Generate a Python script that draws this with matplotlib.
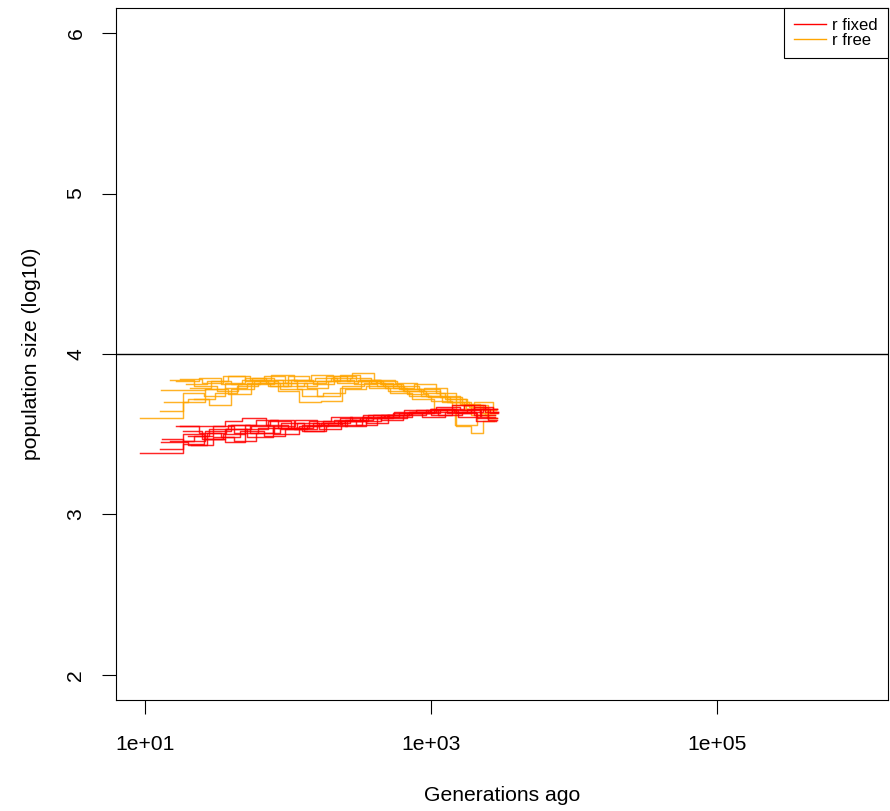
import matplotlib
matplotlib.use("Agg")
import matplotlib.pyplot as plt

plt.rcParams["font.family"] = ["Liberation Sans", "DejaVu Sans"]

# step curves: generation breakpoints and log10 population size per step
fixed_times = [
    [9.2, 18.5, 26, 36, 55, 80, 120, 170, 240, 330, 480, 700, 1000, 1500, 2100, 2900],
    [12.7, 18.5, 26, 36, 50, 75, 110, 160, 230, 320, 450, 650, 950, 1400, 2000, 2800],
    [13, 20, 27, 37, 52, 78, 115, 165, 235, 335, 470, 680, 980, 1450, 2050, 2850],
    [13.2, 18.5, 26.3, 40, 60, 85, 125, 180, 250, 350, 500, 720, 1050, 1550, 2200, 2900],
    [16.5, 26, 36, 48, 70, 100, 140, 200, 280, 390, 550, 800, 1150, 1700, 2400, 2950],
    [17.6, 24, 34, 46, 68, 95, 135, 190, 270, 380, 540, 780, 1120, 1650, 2300, 2900],
    [15, 22, 30, 42, 62, 90, 130, 185, 260, 360, 510, 740, 1080, 1600, 2250, 2800],
    [18.5, 25, 35, 50, 72, 105, 150, 210, 300, 420, 600, 860, 1250, 1800, 2500, 2900],
    [20, 28, 38, 54, 78, 112, 160, 225, 320, 450, 640, 920, 1300, 1900, 2600, 2950],
    [21, 30, 42, 60, 88, 125, 175, 250, 350, 490, 700, 1000, 1400, 2000, 2700, 2950],
]
fixed_sizes = [
    [3.38, 3.50, 3.47, 3.53, 3.55, 3.50, 3.55, 3.57, 3.56, 3.61, 3.62, 3.64, 3.66, 3.63, 3.60],
    [3.41, 3.44, 3.47, 3.45, 3.56, 3.59, 3.53, 3.56, 3.60, 3.58, 3.62, 3.65, 3.64, 3.68, 3.62],
    [3.45, 3.43, 3.51, 3.53, 3.48, 3.54, 3.57, 3.53, 3.58, 3.62, 3.60, 3.63, 3.66, 3.64, 3.58],
    [3.47, 3.46, 3.52, 3.56, 3.59, 3.54, 3.52, 3.57, 3.59, 3.57, 3.62, 3.63, 3.65, 3.61, 3.66],
    [3.55, 3.55, 3.58, 3.60, 3.56, 3.54, 3.58, 3.61, 3.59, 3.62, 3.64, 3.63, 3.66, 3.68, 3.64],
    [3.55, 3.51, 3.48, 3.52, 3.49, 3.53, 3.55, 3.57, 3.61, 3.60, 3.63, 3.65, 3.62, 3.64, 3.66],
    [3.46, 3.49, 3.55, 3.51, 3.54, 3.57, 3.52, 3.55, 3.58, 3.62, 3.61, 3.64, 3.67, 3.65, 3.61],
    [3.52, 3.47, 3.50, 3.53, 3.58, 3.54, 3.57, 3.59, 3.56, 3.61, 3.63, 3.61, 3.64, 3.66, 3.59],
    [3.49, 3.53, 3.56, 3.51, 3.55, 3.59, 3.56, 3.58, 3.60, 3.59, 3.62, 3.65, 3.63, 3.66, 3.63],
    [3.43, 3.48, 3.46, 3.51, 3.53, 3.56, 3.58, 3.55, 3.60, 3.62, 3.64, 3.62, 3.65, 3.67, 3.64],
]

free_times = [
    [9.2, 18.5, 26, 36, 52, 75, 105, 150, 210, 300, 420, 600, 850, 1200, 1700, 2400, 2800],
    [12.7, 18.5, 26.3, 38, 55, 80, 115, 160, 230, 320, 450, 640, 900, 1300, 1800, 2500, 2850],
    [13.5, 20, 28, 40, 58, 85, 120, 170, 240, 340, 480, 680, 960, 1350, 1900, 2500, 2850],
    [13, 26.3, 36, 50, 70, 100, 140, 200, 280, 400, 560, 800, 1150, 1600, 2200, 2800],
    [19.5, 27, 38, 54, 76, 110, 155, 220, 310, 440, 620, 880, 1250, 1750, 2450, 2900],
    [16.5, 24, 34, 48, 68, 96, 135, 190, 270, 380, 540, 760, 1080, 1500, 1900, 2300, 2750],
    [17.6, 25, 35, 50, 72, 100, 145, 205, 290, 410, 580, 820, 1160, 1650, 2300, 2850],
    [20.6, 29, 40, 56, 80, 115, 160, 230, 325, 460, 650, 920, 1300, 1850, 2500, 2900],
    [22, 31, 44, 62, 88, 125, 175, 250, 350, 500, 700, 1000, 1400, 2000, 2700, 2900],
    [15, 22, 32, 45, 64, 92, 130, 185, 260, 370, 520, 740, 1050, 1480, 2100, 2600],
]
free_sizes = [
    [3.60, 3.76, 3.74, 3.79, 3.82, 3.80, 3.84, 3.81, 3.86, 3.83, 3.80, 3.78, 3.74, 3.70, 3.66, 3.62],
    [3.645, 3.70, 3.78, 3.75, 3.81, 3.84, 3.80, 3.83, 3.87, 3.84, 3.81, 3.77, 3.79, 3.72, 3.68, 3.64],
    [3.70, 3.72, 3.68, 3.78, 3.83, 3.77, 3.70, 3.71, 3.80, 3.82, 3.79, 3.75, 3.73, 3.70, 3.62, 3.60],
    [3.776, 3.78, 3.82, 3.85, 3.82, 3.86, 3.83, 3.85, 3.88, 3.84, 3.82, 3.78, 3.74, 3.69, 3.63],
    [3.81, 3.83, 3.86, 3.84, 3.87, 3.83, 3.85, 3.82, 3.84, 3.81, 3.78, 3.76, 3.72, 3.66, 3.60],
    [3.83, 3.85, 3.81, 3.84, 3.86, 3.82, 3.79, 3.83, 3.85, 3.82, 3.79, 3.81, 3.76, 3.55, 3.51, 3.58],
    [3.845, 3.82, 3.86, 3.83, 3.80, 3.84, 3.87, 3.84, 3.81, 3.83, 3.80, 3.77, 3.73, 3.68, 3.65],
    [3.79, 3.83, 3.81, 3.85, 3.82, 3.78, 3.74, 3.79, 3.83, 3.80, 3.77, 3.74, 3.70, 3.67, 3.63],
    [3.72, 3.76, 3.80, 3.82, 3.78, 3.74, 3.76, 3.78, 3.80, 3.77, 3.74, 3.71, 3.68, 3.70, 3.66],
    [3.84, 3.80, 3.77, 3.81, 3.84, 3.80, 3.82, 3.86, 3.83, 3.79, 3.76, 3.72, 3.65, 3.56, 3.62],
]

ref_size = 4.0
x_ticks = [1e1, 1e3, 1e5]
x_ticklabels = ["1e+01", "1e+03", "1e+05"]
y_ticks = [2, 3, 4, 5, 6]

fig = plt.figure(figsize=(8.9, 8.11), dpi=100)
ax = fig.add_axes([116 / 890, 1 - 700 / 811, 772 / 890, 692 / 811])

for t, v in zip(free_times, free_sizes):
    ax.step(t, v + [v[-1]], where="post", color="#FFA500", lw=1.05, alpha=0.85)
for t, v in zip(fixed_times, fixed_sizes):
    ax.step(t, v + [v[-1]], where="post", color="#FF0000", lw=1.05, alpha=0.85)

ax.axhline(ref_size, color="black", lw=1.0)

ax.set_xscale("log")
ax.set_xlim(6.27, 1.57e6)
ax.set_ylim(1.844, 6.156)
ax.set_xticks(x_ticks)
ax.set_xticklabels(x_ticklabels)
ax.minorticks_off()
ax.set_yticks(y_ticks)
ax.set_yticklabels([str(y) for y in y_ticks], rotation=90, va="center")
ax.tick_params(direction="out", length=10, width=0.8, labelsize=15.2)
ax.tick_params(axis="x", pad=15)
ax.tick_params(axis="y", pad=12)
for s in ax.spines.values():
    s.set_linewidth(0.8)

ax.set_xlabel("Generations ago", fontsize=15.2, labelpad=23)
ax.set_ylabel("population size (log10)", fontsize=15.2, labelpad=18)

ax.plot([], [], color="#FF0000", lw=1.0, label="r fixed")
ax.plot([], [], color="#FFA500", lw=1.0, label="r free")
handles, labels = ax.get_legend_handles_labels()
leg = ax.legend(handles[-2:], labels[-2:], loc="upper right", borderaxespad=0,
                fancybox=False, framealpha=1, edgecolor="black", fontsize=12,
                handlelength=1.9, handletextpad=0.4, labelspacing=0.0,
                borderpad=0.6)
leg.get_frame().set_linewidth(0.8)

fig.savefig("out.png", dpi=100)
